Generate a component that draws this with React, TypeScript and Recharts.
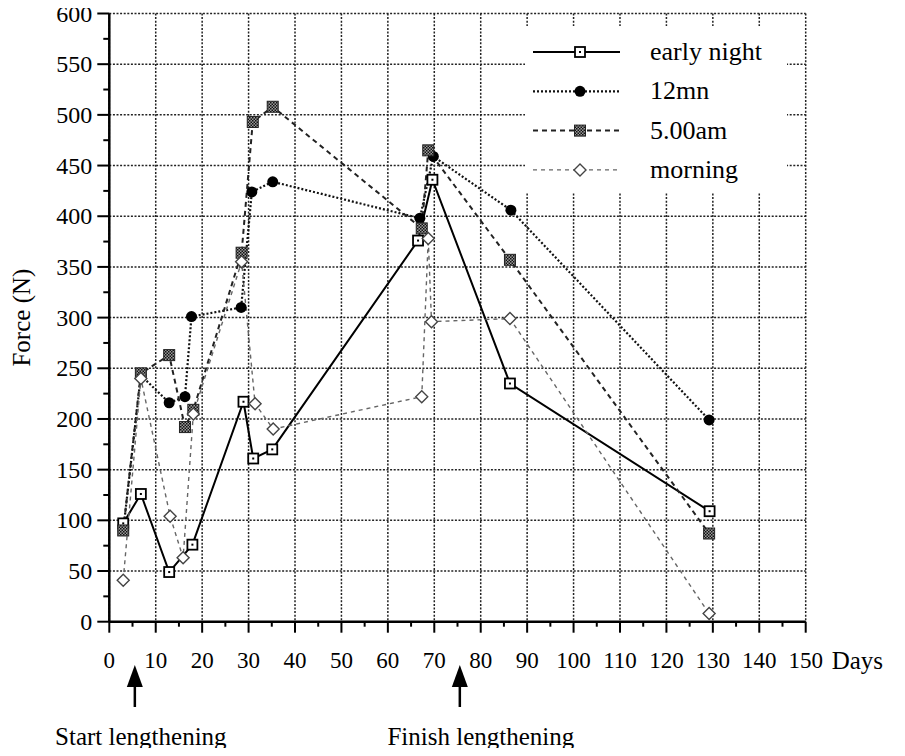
import React from "react";
import {
  CartesianGrid,
  Legend,
  Line,
  LineChart,
  ReferenceDot,
  XAxis,
  YAxis,
} from "recharts";

// days / force (N) for each sampling time
const earlyNightDays = [3, 6.8, 12.9, 17.9, 28.9, 31.0, 35.1, 66.5, 69.6, 86.3, 129.3];
const earlyNightForce = [97, 126, 49, 76, 217, 161, 170, 376, 436, 235, 109];

const midnightDays = [3, 6.8, 12.9, 16.3, 17.7, 28.4, 30.7, 35.2, 66.9, 69.8, 86.5, 129.2];
const midnightForce = [90, 243, 216, 222, 301, 310, 424, 434, 398, 459, 406, 199];

const fiveAmDays = [3, 6.8, 12.9, 16.3, 18.1, 28.5, 30.9, 35.2, 67.3, 68.7, 86.3, 129.2];
const fiveAmForce = [90, 245, 263, 192, 209, 364, 493, 508, 388, 465, 357, 87];

const morningDays = [3, 6.8, 13.1, 15.9, 18.1, 28.5, 31.4, 35.3, 67.3, 68.7, 69.4, 86.3, 129.2];
const morningForce = [41, 240, 104, 63, 205, 355, 215, 190, 222, 378, 296, 299, 8];

const seriesNames = ["early night", "12mn", "5.00am", "morning"];

const xTicks = [0, 5, 10, 15, 20, 25, 30, 35, 40, 45, 50, 55, 60, 65, 70, 75, 80, 85, 90, 95, 100, 105, 110, 115, 120, 125, 130, 135, 140, 145, 150];
const yTicks = [0, 25, 50, 75, 100, 125, 150, 175, 200, 225, 250, 275, 300, 325, 350, 375, 400, 425, 450, 475, 500, 525, 550, 575, 600];
const xGrid = [0, 10, 20, 30, 40, 50, 60, 70, 80, 90, 100, 110, 120, 130, 140, 150];
const yGrid = [0, 50, 100, 150, 200, 250, 300, 350, 400, 450, 500, 550, 600];

const arrowDays = [5.5, 75.5];
const arrowTexts = ["Start lengthening", "Finish lengthening"];
const arrowTextShift = [6, 21];

const FONT = "'Liberation Serif', 'Times New Roman', serif";

const zip = (xs: number[], ys: number[]) => xs.map((x, i) => ({ x, y: ys[i] }));

const styles = [
  { dash: undefined, width: 2, color: "#000", marker: "square" },
  { dash: "2 2", width: 2.2, color: "#111", marker: "circle" },
  { dash: "5 4", width: 2, color: "#222", marker: "checker" },
  { dash: "4 4", width: 1.4, color: "#666", marker: "diamond" },
];

function Marker({ kind, cx, cy }: { kind: string; cx: number; cy: number }) {
  if (kind === "square") {
    return (
      <g>
        <rect x={cx - 5} y={cy - 5} width={10} height={10} fill="#fff" stroke="#000" strokeWidth={1.8} />
        <rect x={cx - 1} y={cy - 1} width={2} height={2} fill="#000" />
      </g>
    );
  }
  if (kind === "circle") {
    return <circle cx={cx} cy={cy} r={5.5} fill="#000" />;
  }
  if (kind === "checker") {
    return (
      <g>
        <defs>
          <pattern id="checkerFill" width="3" height="3" patternUnits="userSpaceOnUse">
            <rect width="3" height="3" fill="#999" />
            <rect width="1.5" height="1.5" fill="#111" />
            <rect x="1.5" y="1.5" width="1.5" height="1.5" fill="#111" />
          </pattern>
        </defs>
        <rect x={cx - 5.5} y={cy - 5.5} width={11} height={11} fill="url(#checkerFill)" stroke="#222" strokeWidth={1} />
      </g>
    );
  }
  return (
    <path
      d={`M${cx},${cy - 6} L${cx + 6},${cy} L${cx},${cy + 6} L${cx - 6},${cy} Z`}
      fill="#fff"
      stroke="#444"
      strokeWidth={1.4}
    />
  );
}

const makeDot = (kind: string) => (p: any) =>
  <Marker key={`${kind}-${p.index}`} kind={kind} cx={p.cx} cy={p.cy} />;

const XTick = (props: any) => {
  const { x, y, payload } = props;
  const major = payload.value % 10 === 0;
  return (
    <g>
      <line x1={x} y1={y} x2={x} y2={y + (major ? 11 : 5)} stroke="#000" strokeWidth={2} />
      {major && (
        <text x={x} y={y + 46} textAnchor="middle" fontFamily={FONT} fontSize={23} fill="#000">
          {payload.value}
        </text>
      )}
    </g>
  );
};

const YTick = (props: any) => {
  const { x, y, payload } = props;
  const major = payload.value % 50 === 0;
  return (
    <g>
      <line x1={x} y1={y} x2={x - (major ? 12 : 6)} y2={y} stroke="#000" strokeWidth={2} />
      {major && (
        <text x={x - 17} y={y + 8} textAnchor="end" fontFamily={FONT} fontSize={24} fill="#000">
          {payload.value}
        </text>
      )}
    </g>
  );
};

const LegendBox = () => (
  <svg width={262} height={166} style={{ display: "block" }}>
    <rect x={0} y={0} width={262} height={166} fill="#fff" />
    {seriesNames.map((name, i) => {
      const s = styles[i];
      const cy = 26 + i * 39.3;
      return (
        <g key={name}>
          <line x1={8} y1={cy} x2={95} y2={cy} stroke={s.color} strokeWidth={s.width} strokeDasharray={s.dash} />
          <Marker kind={s.marker} cx={55} cy={cy} />
          <text x={125} y={cy + 8} fontFamily={FONT} fontSize={26} fill="#000">
            {name}
          </text>
        </g>
      );
    })}
  </svg>
);

const Arrow = (props: any) => {
  const { cx, cy, idx } = props;
  return (
    <g>
      <path d={`M${cx},${cy} L${cx + 8},${cy + 22} L${cx - 8},${cy + 22} Z`} fill="#000" />
      <line x1={cx} y1={cy + 18} x2={cx} y2={cy + 42} stroke="#000" strokeWidth={2.5} />
      <text x={cx + arrowTextShift[idx]} y={cy + 80} textAnchor="middle" fontFamily={FONT} fontSize={25} fill="#000">
        {arrowTexts[idx]}
      </text>
    </g>
  );
};

export default function App() {
  const series = [
    zip(earlyNightDays, earlyNightForce),
    zip(midnightDays, midnightForce),
    zip(fiveAmDays, fiveAmForce),
    zip(morningDays, morningForce),
  ];
  return (
    <div style={{ margin: -8, width: 905, height: 756 }}>
      <LineChart
        width={905}
        height={756}
        margin={{ top: 13.5, right: 99.3, left: 0, bottom: 74.3 }}
        style={{ fontFamily: FONT }}
      >
        <CartesianGrid
          horizontalValues={yGrid}
          verticalValues={xGrid}
          stroke="#222"
          strokeWidth={1.5}
          strokeDasharray="2 1.6"
        />
        <XAxis
          type="number"
          dataKey="x"
          domain={[0, 150]}
          ticks={xTicks}
          interval={0}
          tick={<XTick />}
          tickLine={false}
          tickSize={0}
          tickMargin={0}
          height={60}
          axisLine={{ stroke: "#000", strokeWidth: 2.5 }}
          allowDuplicatedCategory={false}
          label={{ value: "Days", position: "right", offset: 26, dy: 8, fontSize: 25, fill: "#000", fontFamily: FONT, textAnchor: "start" }}
        />
        <YAxis
          type="number"
          domain={[0, 600]}
          ticks={yTicks}
          interval={0}
          tick={<YTick />}
          tickLine={false}
          tickSize={0}
          tickMargin={0}
          width={109.3}
          axisLine={{ stroke: "#000", strokeWidth: 2.5 }}
          label={{
            content: (p: any) => {
              const vb = p.viewBox;
              const cx = vb.x + 22;
              const cy = vb.y + vb.height / 2;
              return (
                <text x={cx} y={cy} transform={`rotate(-90 ${cx} ${cy})`} textAnchor="middle" dominantBaseline="central" fontFamily={FONT} fontSize={25} fill="#000">
                  Force (N)
                </text>
              );
            },
          }}
        />
        {series.map((d, i) => (
          <Line
            key={seriesNames[i]}
            name={seriesNames[i]}
            data={d}
            dataKey="y"
            type="linear"
            stroke={styles[i].color}
            strokeWidth={styles[i].width}
            strokeDasharray={styles[i].dash}
            dot={makeDot(styles[i].marker)}
            activeDot={false}
            isAnimationActive={false}
          />
        ))}
        {arrowDays.map((d, i) => (
          <ReferenceDot
            key={`arrow-${i}`}
            x={d}
            y={-42.7}
            ifOverflow="visible"
            shape={(p: any) => <Arrow {...p} idx={i} />}
          />
        ))}
        <Legend
          layout="vertical"
          align="center"
          verticalAlign="middle"
          content={() => <LegendBox />}
          wrapperStyle={{ position: "absolute", left: 525, top: 26, width: 262, height: 166 }}
        />
      </LineChart>
    </div>
  );
}
